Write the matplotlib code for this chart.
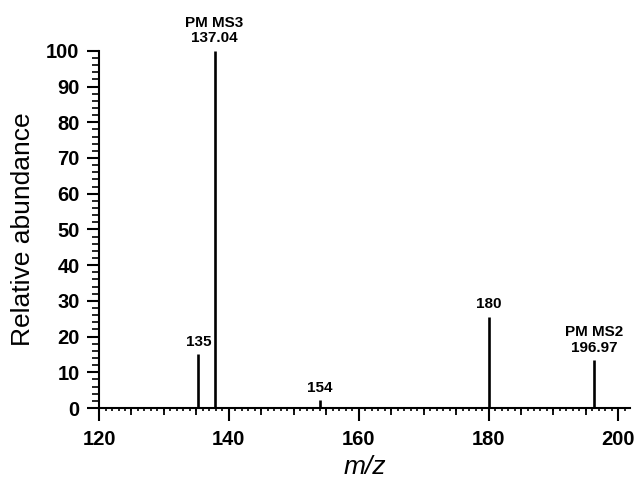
import matplotlib.pyplot as plt
from matplotlib.ticker import MultipleLocator

plt.rcParams['font.family'] = ['Liberation Sans', 'DejaVu Sans']

# peak positions (m/z) and relative abundances
mz = [135.3, 137.8, 154.0, 180.0, 196.3]
abundance = [15.0, 100.0, 2.2, 25.5, 13.4]
peak_labels = ['135', 'PM MS3\n137.04', '154', '180', 'PM MS2\n196.97']

fig = plt.figure(figsize=(6.36, 4.82), dpi=100)
ax = fig.add_axes([0.1557, 0.1535, 0.835, 0.741])

ax.vlines(mz, 0, abundance, color='black', linewidth=1.9, clip_on=False)
for x, y, txt in zip(mz, abundance, peak_labels):
    ax.annotate(txt, (x, y), xytext=(0, 4), textcoords='offset points',
                ha='center', va='bottom', fontsize=11, fontweight='bold',
                linespacing=1.1)

ax.set_xlim(120, 201.8)
ax.set_ylim(0, 100)

for side in ('top', 'right'):
    ax.spines[side].set_visible(False)
for side in ('left', 'bottom'):
    ax.spines[side].set_linewidth(1.5)

ax.xaxis.set_major_locator(MultipleLocator(20))
ax.xaxis.set_minor_locator(MultipleLocator(1))
ax.yaxis.set_major_locator(MultipleLocator(10))
ax.yaxis.set_minor_locator(MultipleLocator(2))
ax.tick_params(axis='x', which='major', length=9, width=1.5, pad=7)
ax.tick_params(axis='x', which='minor', length=2.5, width=1.2)
ax.tick_params(axis='y', which='major', length=9, width=1.5, pad=5)
ax.tick_params(axis='y', which='minor', length=5, width=1.2)
for lab in ax.get_xticklabels() + ax.get_yticklabels():
    lab.set_fontsize(14.5)
    lab.set_fontweight('bold')

# medium ticks every 5
sec = ax.secondary_xaxis('bottom')
sec.xaxis.set_major_locator(MultipleLocator(5))
sec.tick_params(axis='x', length=5, width=1.3, labelbottom=False)
sec.spines['bottom'].set_visible(False)

ax.set_ylabel('Relative abundance', fontsize=19, labelpad=8)
ax.set_xlabel('m/z', fontsize=19, fontstyle='italic', labelpad=4)

fig.savefig('out.png', dpi=100)
